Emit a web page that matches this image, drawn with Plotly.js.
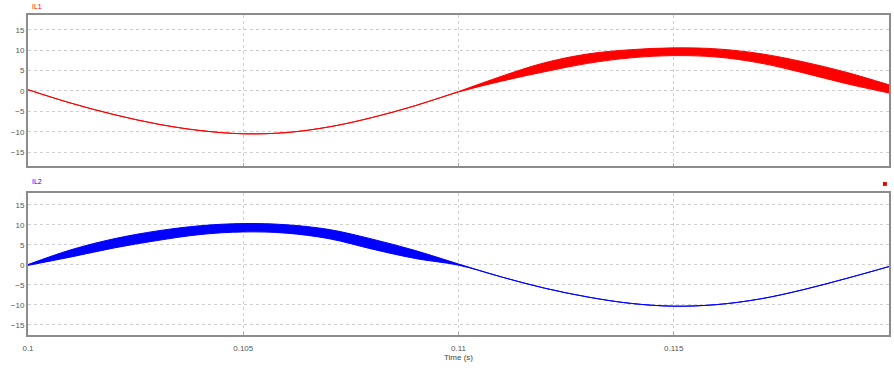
<!DOCTYPE html>
<html>
<head>
<meta charset="utf-8">
<script src="https://cdn.plot.ly/plotly-3.0.1.min.js"></script>
<style>html,body{margin:0;padding:0;background:#fff;}#chart{width:894px;height:371px;}</style>
</head>
<body>
<div id="chart"></div>
<script>
// Time samples (s)
const time = [0.100,0.101,0.102,0.103,0.104,0.105,0.106,0.107,0.108,0.109,0.110,
              0.111,0.112,0.113,0.114,0.115,0.116,0.117,0.118,0.119,0.120];
// IL1 envelope (upper / lower of switching ripple band)
const il1Upper = [0.3,-3.0,-5.8,-8.1,-9.7,-10.5,-10.2,-8.8,-6.5,-3.6,-0.15,
                  3.6,6.9,9.05,10.1,10.55,10.3,9.15,7.15,4.6,1.5];
const il1Lower = [0.3,-3.0,-5.8,-8.1,-9.7,-10.5,-10.2,-8.8,-6.5,-3.6,-0.25,
                  2.4,4.7,6.75,8.1,8.65,8.3,6.85,4.45,1.8,-0.5];
// IL2 envelope
const il2Upper = [0.1,3.8,6.55,8.5,9.8,10.35,10.05,8.85,6.45,3.6,0.25,
                  -3.0,-5.8,-8.0,-9.6,-10.3,-9.9,-8.5,-6.2,-3.4,-0.4];
const il2Lower = [-0.1,2.0,4.25,6.1,7.6,8.25,7.95,6.55,3.95,1.6,-0.05,
                  -3.0,-5.8,-8.0,-9.6,-10.3,-9.9,-8.5,-6.2,-3.4,-0.4];
// Axis ticks
const xTicks = [0.1,0.105,0.11,0.115,0.12];
const xTickText = ['0.1','0.105','0.11','0.115','0.12'];
const yTicks = [-15,-10,-5,0,5,10,15];

const red = '#ff0000', blue = '#0000ff';
const traces = [
  {x: time, y: il1Upper, xaxis:'x2', yaxis:'y2', mode:'lines', line:{color:red, width:1, shape:'spline'}, hoverinfo:'skip'},
  {x: time, y: il1Lower, xaxis:'x2', yaxis:'y2', mode:'lines', line:{color:red, width:1, shape:'spline'}, fill:'tonexty', fillcolor:red, hoverinfo:'skip'},
  {x: time, y: il2Upper, xaxis:'x', yaxis:'y', mode:'lines', line:{color:blue, width:1, shape:'spline'}, hoverinfo:'skip'},
  {x: time, y: il2Lower, xaxis:'x', yaxis:'y', mode:'lines', line:{color:blue, width:1, shape:'spline'}, fill:'tonexty', fillcolor:blue, hoverinfo:'skip'}
];

const tickFont = {family:'Liberation Sans, Arial, sans-serif', size:8, color:'#555'};
const yCommon = {
  tickvals: yTicks, ticks:'', tickfont: tickFont,
  showgrid:true, gridcolor:'#cfcfcf', griddash:'dot', gridwidth:1,
  zeroline:false, showline:true, mirror:true, linecolor:'#8c8c8c', linewidth:2
};
const xCommon = {
  range:[0.1,0.12], tickvals: xTicks, ticktext: xTickText, tickfont: tickFont,
  ticks:'inside', ticklen:3, tickcolor:'#aaa',
  showgrid:true, gridcolor:'#cfcfcf', griddash:'dot', gridwidth:1,
  zeroline:false, showline:true, mirror:true, linecolor:'#8c8c8c', linewidth:2
};

const layout = {
  width:894, height:371,
  margin:{l:28, r:5, t:15, b:36},
  paper_bgcolor:'#fff', plot_bgcolor:'#fff',
  showlegend:false,
  xaxis: Object.assign({}, xCommon, {anchor:'y', ticklabelstandoff:4,
    title:{text:'Time (s)', font:{family:'Liberation Sans, Arial, sans-serif', size:8, color:'#444'}, standoff:3}}),
  yaxis: Object.assign({}, yCommon, {domain:[0,0.444], range:[-17.5,18]}),
  xaxis2: Object.assign({}, xCommon, {anchor:'y2', matches:'x', showticklabels:false}),
  yaxis2: Object.assign({}, yCommon, {domain:[0.528,1], range:[-18.4,18.6]}),
  annotations:[
    {text:'IL1', xref:'paper', yref:'paper', x:0.002, y:1, yshift:9, xanchor:'left', yanchor:'middle', showarrow:false,
     font:{family:'Liberation Sans, Arial, sans-serif', size:7, color:red}},
    {text:'IL2', xref:'paper', yref:'paper', x:0.002, y:0.444, yshift:11, xanchor:'left', yanchor:'middle', showarrow:false,
     font:{family:'Liberation Sans, Arial, sans-serif', size:7, color:blue}}
  ],
  shapes:[
    {type:'rect', xref:'paper', yref:'paper', x0:0.993, x1:0.9975, y0:0.466, y1:0.478, fillcolor:'#e00000', line:{width:0}}
  ]
};

Plotly.newPlot('chart', traces, layout, {displayModeBar:false, staticPlot:true});
</script>
</body>
</html>
